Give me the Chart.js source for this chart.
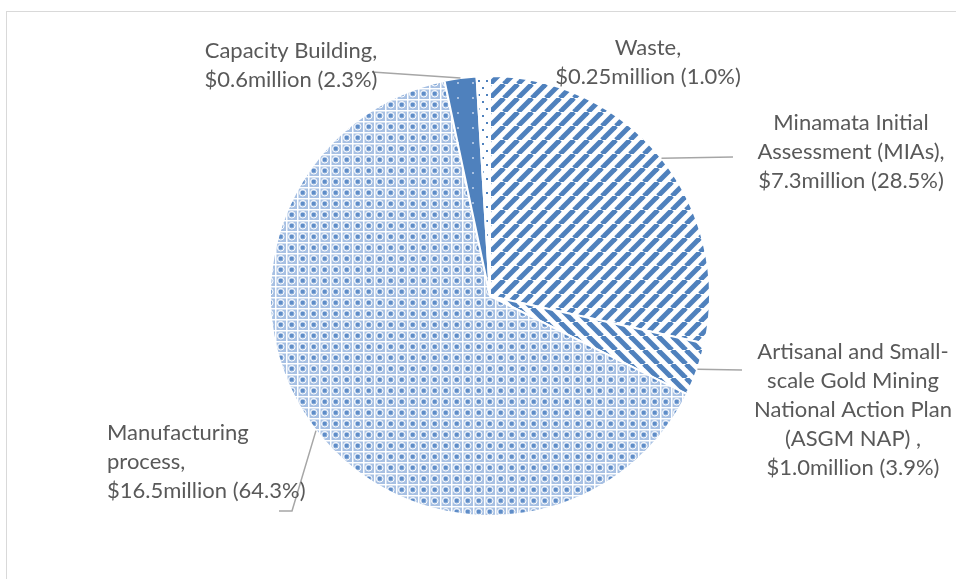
<!DOCTYPE html>
<html>
<head>
<meta charset="utf-8">
<script src="https://cdn.jsdelivr.net/npm/chart.js@4.4.1/dist/chart.umd.min.js"></script>
<style>
  html, body { margin: 0; padding: 0; background: #fff; }
  #wrap { position: relative; width: 956px; height: 579px; }
</style>
</head>
<body>
<div id="wrap"><canvas id="pie" width="956" height="579"></canvas></div>
<script>
// funding by area, $ million (slice order clockwise from 12 o'clock)
const categories = ['Minamata Initial Assessment (MIAs)', 'ASGM NAP', 'Manufacturing process', 'Capacity Building', 'Waste'];
const values = [7.3, 1.0, 16.5, 0.6, 0.25];
const labelLines = [
    ['Minamata Initial', 'Assessment (MIAs),', '$7.3million (28.5%)'],
    ['Artisanal and Small-', 'scale Gold Mining', 'National Action Plan', '(ASGM NAP) ,', '$1.0million (3.9%)'],
    ['Manufacturing', 'process,', '$16.5million (64.3%)'],
    ['Capacity Building,', '$0.6million (2.3%)'],
    ['Waste,', '$0.25million (1.0%)']
];

const BLUE = '#4f81bd';
const FONT = '22px Lato, "Liberation Sans", sans-serif';
const LINE_H = 29;

// label placement: text anchor x/y (first line centre), alignment, leader end
const labelPos = [
    { x: 851, y: 123, align: 'center', lead: [733, 157] },
    { x: 853, y: 352, align: 'center', lead: [742, 370] },
    { x: 107, y: 433, align: 'left', lead: [292, 511], tail: [279, 511] },
    { x: 291, y: 51, align: 'center', lead: [372, 72] },
    { x: 648, y: 48, align: 'center', lead: null }
];

function makePattern(w, h, draw) {
    const c = document.createElement('canvas');
    c.width = w; c.height = h;
    const g = c.getContext('2d');
    g.fillStyle = '#fff';
    g.fillRect(0, 0, w, h);
    draw(g);
    return document.getElementById('pie').getContext('2d').createPattern(c, 'repeat');
}

const patUp = makePattern(14, 14, g => {
    g.strokeStyle = BLUE; g.lineWidth = 5;
    for (let k = -1; k <= 1; k++) {
        g.beginPath(); g.moveTo(k * 14, 14); g.lineTo(k * 14 + 14, 0); g.stroke();
    }
});
const patDown = makePattern(14, 14, g => {
    g.strokeStyle = BLUE; g.lineWidth = 5;
    for (let k = -1; k <= 1; k++) {
        g.beginPath(); g.moveTo(k * 14, 0); g.lineTo(k * 14 + 14, 14); g.stroke();
    }
});
const patLattice = makePattern(11, 11, g => {
    g.fillStyle = '#a7c0e3';
    g.fillRect(0, 0, 11, 11);
    g.fillStyle = '#ffffff';
    g.fillRect(0, 0, 11, 1.5);
    g.fillRect(0, 0, 1.5, 11);
    g.strokeStyle = '#ffffff'; g.lineWidth = 1;
    g.beginPath(); g.arc(5.75, 5.75, 3.3, 0, Math.PI * 2); g.stroke();
    g.fillStyle = '#5f8dc8';
    g.fillRect(4, 4, 3.5, 3.5);
});
const patSolidDots = makePattern(15, 15, g => {
    g.fillStyle = BLUE; g.fillRect(0, 0, 15, 15);
    g.fillStyle = '#a8c0e0'; g.fillRect(7, 7, 2, 2);
});
const patSparse = makePattern(8, 14, g => {
    g.fillStyle = BLUE; g.fillRect(2, 3, 2, 2); g.fillRect(6, 10, 2, 2);
});

const fills = [patUp, patDown, patLattice, patSolidDots, patSparse];

const labelPlugin = {
    id: 'labels',
    beforeDraw(chart) {
        const ctx = chart.ctx;
        ctx.save();
        ctx.strokeStyle = '#d9d9d9';
        ctx.lineWidth = 1;
        ctx.strokeRect(6.5, 11.5, 1200, 800);
        ctx.restore();
    },
    afterDraw(chart) {
        const ctx = chart.ctx;
        const arcs = chart.getDatasetMeta(0).data;
        ctx.save();
        ctx.font = FONT;
        ctx.fillStyle = '#595959';
        ctx.textBaseline = 'middle';
        arcs.forEach((arc, i) => {
            const p = labelPos[i];
            if (p.lead) {
                const mid = (arc.startAngle + arc.endAngle) / 2;
                const ex = arc.x + Math.cos(mid) * arc.outerRadius;
                const ey = arc.y + Math.sin(mid) * arc.outerRadius;
                ctx.strokeStyle = '#a6a6a6';
                ctx.lineWidth = 1.5;
                ctx.beginPath();
                if (p.tail) { ctx.moveTo(p.tail[0], p.tail[1]); ctx.lineTo(p.lead[0], p.lead[1]); }
                else ctx.moveTo(p.lead[0], p.lead[1]);
                ctx.lineTo(ex, ey);
                ctx.stroke();
            }
            ctx.textAlign = p.align;
            labelLines[i].forEach((t, k) => ctx.fillText(t, p.x, p.y + k * LINE_H));
        });
        ctx.restore();
    }
};

new Chart(document.getElementById('pie'), {
    type: 'pie',
    data: {
        labels: categories,
        datasets: [{
            data: values,
            backgroundColor: fills,
            borderColor: '#ffffff',
            borderWidth: 2
        }]
    },
    options: {
        responsive: false,
        animation: false,
        events: [],
        layout: { padding: { left: 269, right: 245, top: 75, bottom: 62 } },
        plugins: { legend: { display: false }, tooltip: { enabled: false } }
    },
    plugins: [labelPlugin]
});
</script>
</body>
</html>
